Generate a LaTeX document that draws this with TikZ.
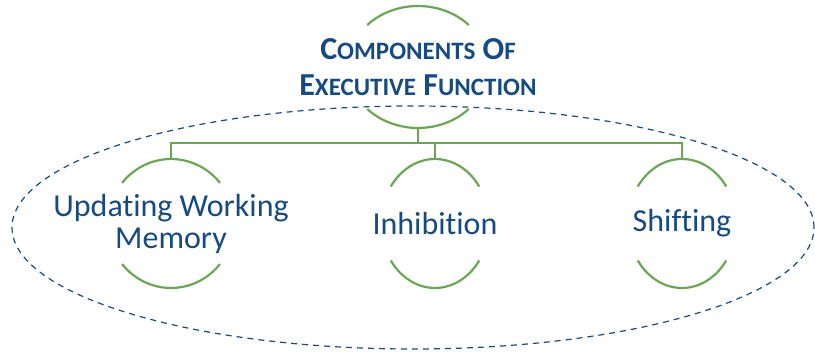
\documentclass[tikz,border=0pt]{standalone}
\usepackage{fontspec}
\setmainfont{Carlito}[RawFeature={-liga}]
\usetikzlibrary{positioning}

\definecolor{efblue}{RGB}{22,74,128}
\definecolor{efgreen}{RGB}{106,166,86}

% capital followed by smaller capitals
\newcommand\bigsc[2]{#1{\fontsize{25}{36}\selectfont#2}}

% upper and lower arc around a node, plus coordinates at both apexes
\newcommand\ringarcs[4]{%
  \draw[ring] ([shift={(#4:#2 and #3)}]#1.center)
    arc[start angle=#4, end angle=180-#4, x radius=#2, y radius=#3];
  \draw[ring] ([shift={(-#4:#2 and #3)}]#1.center)
    arc[start angle=-#4, end angle=-180+#4, x radius=#2, y radius=#3];
  \coordinate (#1-t) at ([yshift=#3]#1.center);
  \coordinate (#1-b) at ([yshift=-#3]#1.center);
}

\begin{document}
\begin{tikzpicture}[
  x=1pt, y=1pt,
  title/.style={align=center, inner sep=0pt, text=efblue,
                font=\bfseries\fontsize{32}{36}\selectfont},
  part/.style={align=center, inner sep=0pt, text=efblue,
               font=\fontsize{32}{32}\selectfont},
  ring/.style={draw=efgreen, line width=2.2pt},
  link/.style={draw=efgreen, line width=2.2pt},
  group/.style={draw=efblue, line width=1.2pt, dash pattern=on 6pt off 5pt},
]
  \useasboundingbox (0,0) rectangle (815,352);

  % dashed boundary around the three components
  \draw[group] (413,124.5) ellipse [x radius=401, y radius=121.5];

  % top node
  \node[title] (top) at (418,285)
    {\bigsc{C}{OMPONENTS} \bigsc{O}{F}\\ \bigsc{E}{XECUTIVE} \bigsc{F}{UNCTION}};
  \ringarcs{top}{70}{61}{43.5}

  % components
  \node[part] (upd) at (171,128.5) {Updating Working\\ Memory};
  \node[part] (inh) at (435,128.5) {Inhibition};
  \node[part] (shf) at (682,128.5) {Shifting};
  \ringarcs{upd}{63}{64.5}{39}
  \ringarcs{inh}{54}{64.5}{35}
  \ringarcs{shf}{54}{64.5}{35}

  % connectors
  \coordinate (bus) at (418,209);
  \draw[link] (top-b) -- (bus);
  \draw[link] (upd-t) -- (upd-t |- bus) -- (shf-t |- bus) -- (shf-t);
  \draw[link] (inh-t) -- (inh-t |- bus);
\end{tikzpicture}
\end{document}
